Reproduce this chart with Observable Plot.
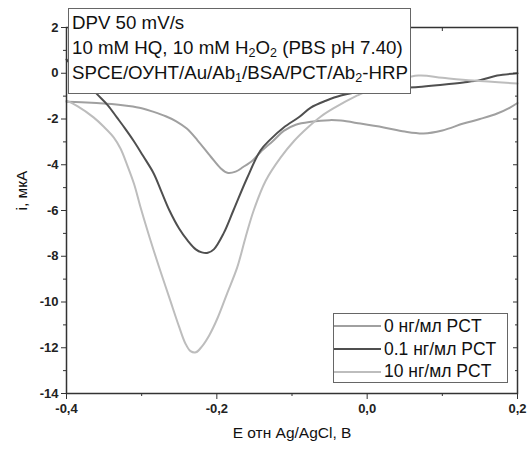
<!DOCTYPE html>
<html><head><meta charset="utf-8">
<script src="https://cdn.jsdelivr.net/npm/d3@7"></script>
<script src="https://cdn.jsdelivr.net/npm/@observablehq/plot@0.6"></script>
<style>
body{margin:0;background:#fff;}
#wrap{position:relative;width:531px;height:449px;font-family:"Liberation Sans",Arial,sans-serif;color:#111;}
#wrap svg{display:block;}
.box{position:absolute;background:#fff;border:1px solid #666;box-sizing:border-box;}
#note{left:68px;top:8px;width:343px;height:86px;padding:2px 0 0 3px;font-size:18.7px;line-height:24.8px;white-space:nowrap;}
#note sub{font-size:12.5px;vertical-align:-3px;line-height:0;}
#legend{left:333px;top:313px;width:175px;height:70px;padding-top:1px;font-size:17.5px;white-space:nowrap;}
.row{display:flex;align-items:center;height:22.7px;}
.sw{width:47px;height:2px;margin-right:3px;flex:none;}
</style></head><body><div id="wrap"></div>
<script>
const seriesNames = ["0 нг/мл PCT", "0.1 нг/мл PCT", "10 нг/мл PCT"];
const seriesColors = ["#a0a0a0", "#4f4f4f", "#bdbdbd"];

const potential0 = [-0.4,-0.38,-0.36,-0.34,-0.32,-0.30,-0.284,-0.268,-0.254,-0.24,-0.226,-0.208,-0.195,-0.186,-0.175,-0.165,-0.152,-0.142,-0.125,-0.111,-0.095,-0.075,-0.05,-0.035,-0.009,0.022,0.05,0.075,0.1,0.128,0.15,0.173,0.19,0.2];
const current0 = [-1.25,-1.27,-1.3,-1.34,-1.42,-1.53,-1.69,-1.88,-2.1,-2.42,-2.92,-3.65,-4.15,-4.35,-4.3,-4.1,-3.8,-3.45,-2.95,-2.52,-2.25,-2.12,-2.05,-2.07,-2.2,-2.37,-2.55,-2.63,-2.5,-2.2,-2.0,-1.76,-1.5,-1.3];

const potential1 = [-0.4,-0.38,-0.36,-0.345,-0.333,-0.322,-0.311,-0.298,-0.284,-0.274,-0.263,-0.25,-0.239,-0.228,-0.22,-0.212,-0.204,-0.191,-0.178,-0.16,-0.142,-0.129,-0.111,-0.09,-0.075,-0.055,-0.035,0.0,0.03,0.068,0.1,0.128,0.15,0.173,0.2];
const current1 = [0.6,-0.15,-0.89,-1.4,-1.93,-2.42,-2.94,-3.62,-4.38,-5.15,-6.0,-6.8,-7.31,-7.7,-7.83,-7.85,-7.7,-7.0,-6.0,-4.6,-3.38,-2.9,-2.37,-1.9,-1.5,-1.2,-0.97,-0.75,-0.65,-0.6,-0.5,-0.4,-0.3,-0.1,0.0];

const potential2 = [-0.4,-0.385,-0.364,-0.35,-0.337,-0.328,-0.32,-0.31,-0.302,-0.293,-0.284,-0.273,-0.262,-0.25,-0.242,-0.235,-0.228,-0.22,-0.21,-0.199,-0.186,-0.173,-0.162,-0.151,-0.135,-0.115,-0.097,-0.079,-0.062,-0.045,-0.013,0.02,0.068,0.1,0.141,0.2];
const current2 = [-1.2,-1.45,-1.93,-2.35,-2.81,-3.3,-3.95,-4.85,-5.8,-6.8,-7.75,-8.85,-9.93,-11.1,-11.8,-12.15,-12.2,-11.95,-11.45,-10.7,-9.6,-8.5,-7.2,-6.0,-4.7,-3.68,-2.95,-2.37,-1.9,-1.54,-0.97,-0.5,-0.1,-0.2,-0.32,-0.45];

const yMajorTicks = [-14,-12,-10,-8,-6,-4,-2,0,2];
const yMinorTicks = [-13,-11,-9,-7,-5,-3,-1,1];
const xMajorTicks = [-0.4,-0.2,0.0,0.2];
const xMinorTicks = [-0.3,-0.1,0.1];
const xLabel = "E отн Ag/AgCl, В";
const yLabel = "i, мкА";
const noteLines = ["DPV 50 mV/s", "10 mM HQ, 10 mM H<sub>2</sub>O<sub>2</sub> (PBS pH 7.40)", "SPCE/ОУНТ/Au/Ab<sub>1</sub>/BSA/PCT/Ab<sub>2</sub>-HRP"];

const pots = [potential0, potential1, potential2];
const curs = [current0, current1, current2];
const data = seriesNames.flatMap((s, i) => pots[i].map((x, j) => ({series: s, x, y: curs[i][j]})));

const fmtX = d => d.toFixed(1).replace(".", ",");
const fmtY = d => String(d);

const chart = Plot.plot({
  width: 531, height: 449,
  marginLeft: 66, marginRight: 14, marginTop: 27, marginBottom: 56,
  style: {fontFamily: "'Liberation Sans', Arial, sans-serif", fontSize: "13px", color: "#222", background: "#fff"},
  x: {domain: [-0.4, 0.2]},
  y: {domain: [-14, 2]},
  color: {domain: seriesNames, range: seriesColors},
  marks: [
    Plot.line(data, {x: "x", y: "y", z: "series", stroke: "series", strokeWidth: 2, curve: "catmull-rom"}),
    Plot.frame({stroke: "#333", strokeWidth: 1.5}),
    Plot.axisY(yMajorTicks, {anchor: "left", tickSize: 5, tickPadding: 3, tickFormat: fmtY, label: null, fontWeight: "bold", stroke: "#333"}),
    Plot.axisY(yMinorTicks, {anchor: "left", tickSize: 3, fill: "none", label: null, stroke: "#333"}),
    Plot.axisY(yMajorTicks, {anchor: "right", tickSize: -5, fill: "none", label: null, stroke: "#333"}),
    Plot.axisY(yMinorTicks, {anchor: "right", tickSize: -3, fill: "none", label: null, stroke: "#333"}),
    Plot.axisX(xMajorTicks, {anchor: "bottom", tickSize: 6, tickPadding: 4, tickFormat: fmtX, label: null, fontWeight: "bold", stroke: "#333"}),
    Plot.axisX(xMinorTicks, {anchor: "bottom", tickSize: 3, fill: "none", label: null, stroke: "#333"}),
    Plot.axisX(xMajorTicks, {anchor: "top", tickSize: -5, fill: "none", label: null, stroke: "#333"}),
    Plot.axisX(xMinorTicks, {anchor: "top", tickSize: -3, fill: "none", label: null, stroke: "#333"}),
    Plot.text([xLabel], {frameAnchor: "bottom", dy: 44, fontSize: 15.5, fill: "#111"}),
    Plot.text([yLabel], {frameAnchor: "left", dx: -44, rotate: -90, fontSize: 15.5, fill: "#111"})
  ]
});

const wrap = document.getElementById("wrap");
wrap.appendChild(chart);

const note = document.createElement("div");
note.className = "box"; note.id = "note";
note.innerHTML = noteLines.map(l => `<div>${l}</div>`).join("");
wrap.appendChild(note);

const legend = document.createElement("div");
legend.className = "box"; legend.id = "legend";
seriesNames.forEach((s, i) => {
  const row = document.createElement("div");
  row.className = "row";
  const sw = document.createElement("div");
  sw.className = "sw"; sw.style.background = seriesColors[i];
  const t = document.createElement("span"); t.textContent = s;
  row.appendChild(sw); row.appendChild(t);
  legend.appendChild(row);
});
wrap.appendChild(legend);
</script></body></html>
